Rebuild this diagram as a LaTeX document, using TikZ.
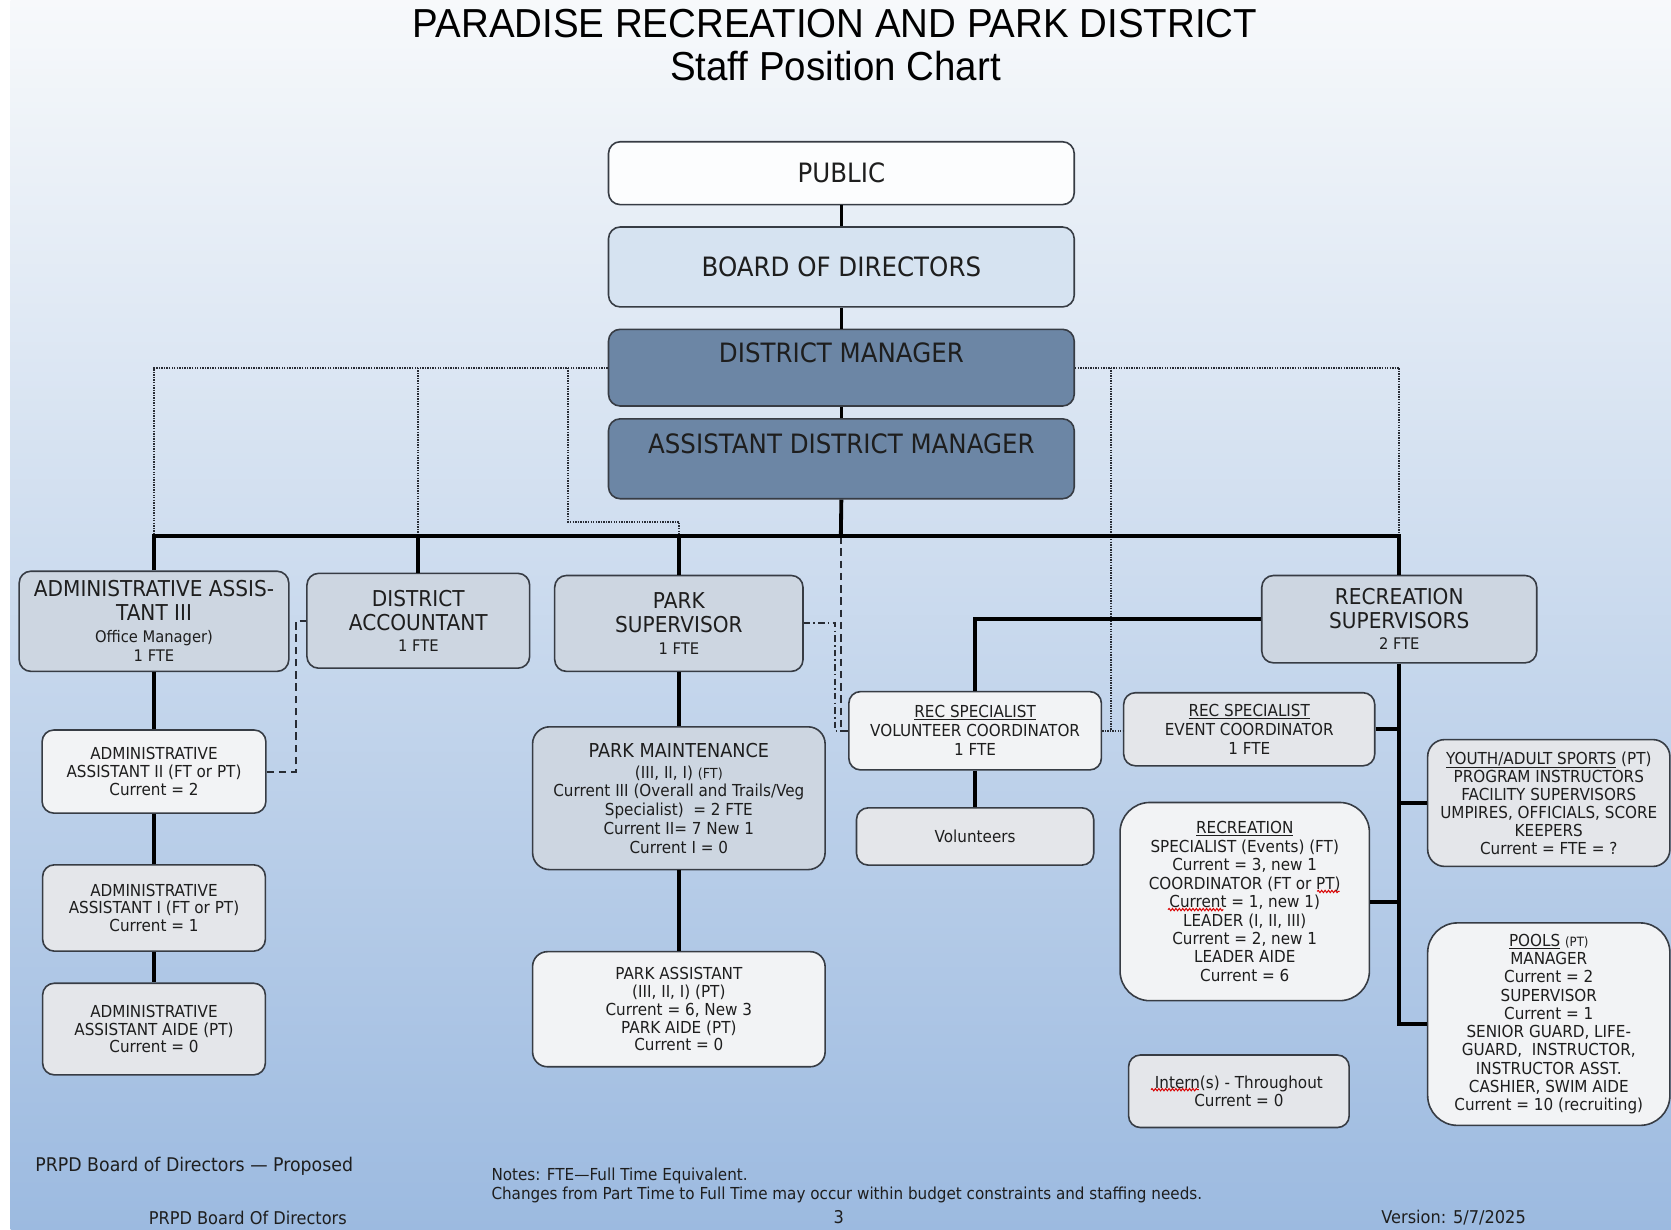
\documentclass[tikz,border=0pt]{standalone}
\usepackage{fontspec}
\setmainfont{DejaVu Sans}[FakeStretch=0.92]
\newfontfamily\titlefont{Liberation Sans}[FakeStretch=0.95]
\newfontfamily\footfont{DejaVu Sans}[FakeStretch=0.92]
\usetikzlibrary{decorations.pathmorphing}

\definecolor{bgtop}{RGB}{247,249,251}
\definecolor{bgmid}{RGB}{203,220,239}
\definecolor{bgbot}{RGB}{156,186,224}
\definecolor{edgec}{RGB}{55,60,68}
\definecolor{pubfill}{RGB}{252,253,254}
\definecolor{boardfill}{RGB}{214,227,241}
\definecolor{mgrfill}{RGB}{108,134,165}
\definecolor{midfill}{RGB}{205,214,225}
\definecolor{lightfill}{RGB}{242,243,245}
\definecolor{grayfill}{RGB}{228,230,234}
\definecolor{txt}{RGB}{30,30,30}
\definecolor{dotcol}{RGB}{40,44,52}

\newcommand\fH{\fontsize{25}{28}\selectfont}
\newcommand\fM{\fontsize{20.5}{22.5}\selectfont}
\newcommand\fs{\fontsize{15}{22.5}\selectfont}

\begin{document}
\begin{tikzpicture}[x=1pt,y=-1pt,
  box/.style={draw=edgec, line width=1.5pt, rounded corners=11pt, align=center, text=txt, inner sep=0pt},
  conn/.style={line width=3.6pt, black, line join=miter},
  hconn/.style={line width=3pt, black},
  dotc/.style={line width=1.6pt, color=dotcol, dash pattern=on 1.3pt off 1.1pt},
  dashc/.style={line width=2pt, color=dotcol, dash pattern=on 7pt off 4.5pt},
  dashdotc/.style={line width=1.8pt, color=dotcol, dash pattern=on 6pt off 3pt on 1.5pt off 3pt},
  squig/.style={red!85!black, line width=0.9pt, decorate, decoration={snake, amplitude=1.1pt, segment length=3.2pt}},
  foot/.style={font=\footfont\fontsize{16.5}{19}\selectfont, text=txt, inner sep=0pt}
]
\useasboundingbox (0,0) rectangle (1568,1154);
\fill[white] (0,0) rectangle (1568,1154);
\shade[top color=bgtop, middle color=bgmid, bottom color=bgbot] (10,0) rectangle (1568,1154);

% title
\node[font=\titlefont\fontsize{38}{44}\selectfont, inner sep=0pt] (title1) at (783.5,22.5) {PARADISE RECREATION AND PARK DISTRICT};
\node[font=\titlefont\fontsize{38}{44}\selectfont, inner sep=0pt] (title2) at (784,61.5) {Staff Position Chart};

% top boxes
\node[box, fill=pubfill, minimum width=437pt, minimum height=59pt, font=\fH] (pub) at (789.5,162.5) {PUBLIC};
\node[box, fill=boardfill, minimum width=437pt, minimum height=75pt, font=\fH] (board) at (789.5,250.5) {BOARD OF DIRECTORS};
\node[box, fill=mgrfill, minimum width=437pt, minimum height=72pt, font=\fH] (dm) at (789.5,345) {DISTRICT MANAGER\\\mbox{}};
\node[box, fill=mgrfill, minimum width=437pt, minimum height=75pt, font=\fH] (adm) at (789.5,430.5) {ASSISTANT DISTRICT MANAGER\\\mbox{}};

% level 2
\node[box, fill=midfill, minimum width=253pt, minimum height=94pt, font=\fM] (aa3) at (144.5,583)
  {ADMINISTRATIVE ASSIS-\\TANT III\\[-2.5pt]{\fs Office Manager)}\\[-4pt]{\fs 1 FTE}};
\node[box, fill=midfill, minimum width=209pt, minimum height=89pt, font=\fM] (acct) at (392.5,582.5)
  {DISTRICT\\ACCOUNTANT\\[-2.5pt]{\fs 1 FTE}};
\node[box, fill=midfill, minimum width=233pt, minimum height=90pt, font=\fM] (psup) at (637,585)
  {PARK\\SUPERVISOR\\[-2.5pt]{\fs 1 FTE}};
\node[box, fill=midfill, minimum width=258pt, minimum height=82pt, font=\fM] (rsup) at (1313,581)
  {RECREATION\\SUPERVISORS\\[-3pt]{\fs 2 FTE}};

% admin column
\node[box, fill=lightfill, minimum width=210pt, minimum height=78pt, font=\fontsize{15.5}{16.5}\selectfont] (aa2) at (144.5,724)
  {ADMINISTRATIVE\\ASSISTANT II (FT or PT)\\Current = 2};
\node[box, fill=grayfill, minimum width=209pt, minimum height=81pt, font=\fontsize{15.5}{16.4}\selectfont] (aa1) at (144.5,852)
  {ADMINISTRATIVE\\ASSISTANT I (FT or PT)\\Current = 1};
\node[box, fill=grayfill, minimum width=209pt, minimum height=86pt, font=\fontsize{15.5}{16.8}\selectfont] (aaaide) at (144.5,965.6)
  {ADMINISTRATIVE\\ASSISTANT AIDE (PT)\\Current = 0};

% park column
\node[box, fill=midfill, minimum width=274.5pt, minimum height=134pt, rounded corners=16pt, font=\fontsize{15.5}{17.6}\selectfont] (pmaint) at (637,749)
  {{\fontsize{18}{17.6}\selectfont PARK MAINTENANCE}\\[2pt](III, II, I) {\fontsize{13}{17.6}\selectfont (FT)}\\Current III (Overall and Trails/Veg\\Specialist)~ = 2 FTE\\Current II= 7 New 1\\Current I = 0};
\node[box, fill=lightfill, minimum width=274.5pt, minimum height=108pt, rounded corners=14pt, font=\fontsize{15.5}{16.75}\selectfont] (passt) at (637,947)
  {PARK ASSISTANT\\(III, II, I) (PT)\\Current = 6, New 3\\PARK AIDE (PT)\\Current = 0};

% volunteer column
\node[box, fill=lightfill, minimum width=237pt, minimum height=73.5pt, font=\fontsize{15.5}{17.8}\selectfont] (volc) at (915,685.7)
  {\underline{REC SPECIALIST}\\VOLUNTEER COORDINATOR\\1 FTE};
\node[box, fill=grayfill, minimum width=222.6pt, minimum height=53.7pt, font=\fontsize{15.5}{17}\selectfont] (vols) at (915,784.9)
  {Volunteers};

% recreation column
\node[box, fill=grayfill, minimum width=235.6pt, minimum height=68.6pt, font=\fontsize{15.5}{17.9}\selectfont] (evc) at (1172.2,684.3)
  {\underline{REC SPECIALIST}\\EVENT COORDINATOR\\1 FTE};
\node[box, fill=lightfill, minimum width=234pt, minimum height=186pt, rounded corners=28pt, font=\fontsize{15.5}{17.3}\selectfont] (recr) at (1168,846)
  {\underline{RECREATION}\\SPECIALIST (Events) (FT)\\Current = 3, new 1\\COORDINATOR (FT or PT)\\Current = 1, new 1)\\LEADER (I, II, III)\\Current = 2, new 1\\LEADER AIDE\\Current = 6};
\node[box, fill=grayfill, minimum width=207pt, minimum height=68pt, font=\fontsize{15.5}{17}\selectfont] (intern) at (1162.5,1024)
  {Intern(s) - Throughout\\Current = 0};
\node[box, fill=grayfill, minimum width=227.3pt, minimum height=119pt, rounded corners=16pt, font=\fontsize{15.5}{16.9}\selectfont] (youth) at (1453.3,753.5)
  {\underline{YOUTH/ADULT SPORTS} (PT)\\PROGRAM INSTRUCTORS\\FACILITY SUPERVISORS\\UMPIRES, OFFICIALS, SCORE\\KEEPERS\\Current = FTE = ?};
\node[box, fill=lightfill, minimum width=227.3pt, minimum height=190pt, rounded corners=28pt, font=\fontsize{15.5}{17.1}\selectfont] (pools) at (1453.3,961)
  {\underline{POOLS} {\fontsize{12}{17.1}\selectfont (PT)}\\MANAGER\\Current = 2\\SUPERVISOR\\Current = 1\\SENIOR GUARD, LIFE-\\GUARD,~ INSTRUCTOR,\\INSTRUCTOR ASST.\\CASHIER, SWIM AIDE\\Current = 10 (recruiting)};

% helper coordinates
\coordinate (bus) at (789,503);
\coordinate (k1) at (533,489.5);
\coordinate (k2) at (1042.5,685.7);
\coordinate (k3) at (783.5,0);
\coordinate (k4) at (278,0);

% dotted connectors
\draw[dotc] (dm.west) -| (aa3.north |- bus);
\draw[dotc] (dm.west -| acct.north) -- (acct.north |- bus);
\draw[dotc] (k1 |- dm.west) -- (k1) -- (k1 -| psup.north) -- (psup.north |- bus);
\draw[dotc] (dm.east) -| (rsup.north |- bus);
\draw[dotc] (dm.east -| k2) -- (k2);
\draw[dotc] (volc.east) -- (evc.west |- volc.east);

% dashed connectors
\draw[dashc] (bus) |- (volc.west);
\draw[dashdotc] (psup.east) -- (psup.east -| k3) -- (k3 |- volc.west) -- (volc.west);
\draw[dashc] (aa2.east) -- (aa2.east -| k4) -- (k4 |- acct.west) -- (acct.west);

% solid connectors
\draw[hconn] (pub.south) -- (board.north);
\draw[hconn] (board.south) -- (dm.north);
\draw[hconn] (dm.south) -- (adm.north);
\draw[conn] (adm.south) -- (bus);
\draw[conn] (aa3.north) |- (rsup.north |- bus) -- (rsup.north);
\draw[conn] (acct.north |- bus) -- (acct.north);
\draw[conn] (psup.north |- bus) -- (psup.north);
\draw[conn] (aa3.south) -- (aa2.north);
\draw[conn] (aa2.south) -- (aa1.north);
\draw[conn] (aa1.south) -- (aaaide.north);
\draw[conn] (psup.south) -- (pmaint.north);
\draw[conn] (pmaint.south) -- (passt.north);
\draw[conn] (rsup.west) -| (volc.north);
\draw[conn] (volc.south) -- (vols.north);
\draw[conn] (rsup.south) |- (pools.west);
\draw[conn] (evc.east) -- (evc.east -| rsup.south);
\draw[conn] (youth.west) -- (youth.west -| rsup.south);
\draw[conn] (recr.east) -- (recr.east -| rsup.south);

% spell-check squiggles
\draw[squig] (1236,836.5) -- (1257,836.5);
\draw[squig] (1096,853.5) -- (1148,853.5);
\draw[squig] (1080,1022.5) -- (1125,1022.5);

% footer
\node[foot, anchor=west, font=\footfont\fontsize{17.7}{20}\selectfont] (prop) at (33,1094) {PRPD Board of Directors — Proposed};
\node[foot, anchor=west, align=left, font=\footfont\fontsize{15.5}{18}\selectfont] (notes) at (461,1112)
  {Notes: FTE—Full Time Equivalent.\\Changes from Part Time to Full Time may occur within budget constraints and staffing needs.};
\node[foot] (fleft) at (232.5,1142.5) {PRPD Board Of Directors};
\node[foot] (fpage) at (787,1142.5) {3};
\node[foot] (fver) at (1364,1142.5) {Version: 5/7/2025};
\end{tikzpicture}
\end{document}
